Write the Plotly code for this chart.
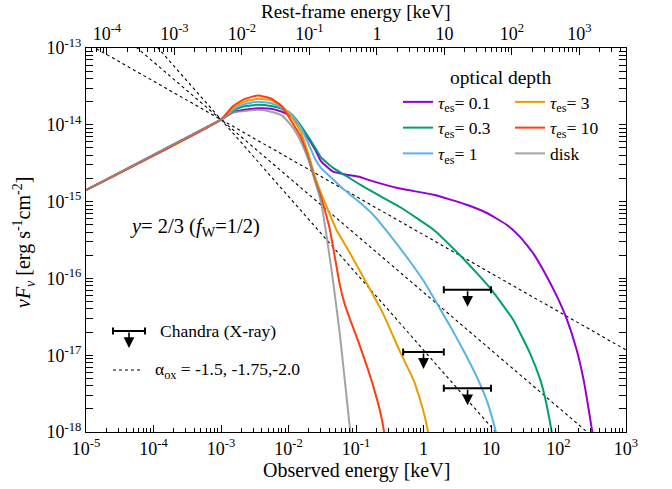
import numpy as np
import plotly.graph_objects as go

FONT = "'Liberation Serif', 'Times New Roman', 'DejaVu Serif', serif"

# ---------------- data (observed energy in keV, nuFnu in erg/s/cm2) ----------------
E_tau01 = [1e-5, 1e-3, 1.5e-3, 2.2e-3, 3.5e-3, 5.5e-3, 8e-3, 0.011, 0.015, 0.02, 0.025, 0.03,
           0.0457, 0.0724, 0.115, 0.1445, 0.447, 1.413, 4.37, 8.71, 17.0, 26.9, 42.7, 63.1,
           93.3, 131.8, 186.2, 239.9, 281.8, 323.6]
F_tau01 = [1.41e-15, 1.17e-14, 1.45e-14, 1.57e-14, 1.64e-14, 1.62e-14, 1.48e-14, 1.29e-14,
           9.5e-15, 6.5e-15, 4.7e-15, 3.4e-15,
           2.45e-15, 2.24e-15, 2.09e-15, 1.95e-15, 1.48e-15, 1.23e-15, 9.1e-16, 7.1e-16,
           5.0e-16, 3.47e-16, 2.09e-16, 1.17e-16, 6.0e-17, 3.0e-17, 1.17e-17, 4.4e-18,
           1.9e-18, 8.9e-19]

E_tau03 = [1e-5, 1e-3, 1.5e-3, 2.2e-3, 3.5e-3, 5.5e-3, 8e-3, 0.011, 0.015, 0.02, 0.025, 0.03,
           0.0457, 0.0724, 0.115, 0.2, 0.447, 1.413, 3.47, 6.17, 10.2, 21.4, 38.0, 53.7,
           63.1, 74.1, 79.4]
F_tau03 = [1.41e-15, 1.17e-14, 1.51e-14, 1.74e-14, 1.82e-14, 1.76e-14, 1.62e-14, 1.38e-14,
           1.0e-14, 6.8e-15, 5.0e-15, 3.8e-15,
           2.75e-15, 2.14e-15, 1.66e-15, 1.26e-15, 8.5e-16, 4.3e-16, 2.0e-16, 1.17e-16,
           7.1e-17, 2.88e-17, 1.05e-17, 4.8e-18, 2.82e-18, 1.41e-18, 1.0e-18]

E_tau1 = [1e-5, 1e-3, 1.5e-3, 2.2e-3, 3.5e-3, 5.5e-3, 8e-3, 0.011, 0.015, 0.02, 0.025, 0.0302,
          0.0457, 0.0617, 0.1, 0.178, 0.316, 0.631, 1.0, 1.585, 2.512, 3.981, 6.31, 8.91,
          11.22, 12.59]
F_tau1 = [1.41e-15, 1.17e-14, 1.58e-14, 1.86e-14, 2.0e-14, 1.91e-14, 1.66e-14, 1.38e-14,
          9.5e-15, 5.5e-15, 3.55e-15, 2.75e-15,
          1.95e-15, 1.51e-15, 1.07e-15, 6.8e-16, 3.7e-16, 1.66e-16, 9.3e-17, 4.7e-17,
          2.34e-17, 1.12e-17, 5.0e-18, 2.4e-18, 1.2e-18, 7.9e-19]

E_tau3 = [1e-5, 1e-3, 1.5e-3, 2.2e-3, 3.5e-3, 5.5e-3, 8e-3, 0.011, 0.015, 0.02, 0.025, 0.03,
          0.0389, 0.0513, 0.0813, 0.1445, 0.251, 0.447, 0.708, 0.891, 1.047, 1.202]
F_tau3 = [1.41e-15, 1.17e-14, 1.66e-14, 2.0e-14, 2.19e-14, 2.09e-14, 1.74e-14, 1.29e-14,
          8.3e-15, 3.98e-15, 2.04e-15, 1.32e-15,
          7.6e-16, 4.3e-16, 2.14e-16, 8.6e-17, 3.5e-17, 1.12e-17, 4.8e-18, 2.63e-18,
          1.58e-18, 8.9e-19]

E_tau10 = [1e-5, 1e-3, 1.5e-3, 2.2e-3, 3.5e-3, 5.5e-3, 8e-3, 0.011, 0.015, 0.02, 0.025, 0.03,
           0.0355, 0.0411, 0.049, 0.0575, 0.0676, 0.0776, 0.107, 0.151, 0.204, 0.24, 0.263]
F_tau10 = [1.41e-15, 1.17e-14, 1.74e-14, 2.16e-14, 2.40e-14, 2.21e-14, 1.74e-14, 1.12e-14,
           7.1e-15, 3.55e-15, 1.82e-15, 1.17e-15,
           7.1e-16, 4.3e-16, 1.82e-16, 8.3e-17, 4.7e-17, 3.3e-17, 1.55e-17, 6.5e-18,
           2.7e-18, 1.51e-18, 9.5e-19]

E_disk = [1e-5, 1e-3, 1.5e-3, 2.2e-3, 3.5e-3, 5.5e-3, 8e-3, 0.011, 0.015, 0.02, 0.025, 0.03,
          0.036, 0.046, 0.058, 0.069, 0.079, 0.085]
F_disk = [1.41e-15, 1.17e-14, 1.45e-14, 1.51e-14, 1.57e-14, 1.48e-14, 1.32e-14, 9.8e-15,
          6.2e-15, 3.4e-15, 1.82e-15, 1.02e-15,
          4.0e-16, 8.9e-17, 1.78e-17, 4.3e-18, 1.41e-18, 7.9e-19]

# alpha_ox reference lines (end points of straight lines in log-log)
E_ox = [1e-5, 1e3]
F_ox_150 = [1.17e-13, 1.17e-17]
F_ox_175 = [3.7e-13, 3.7e-19]
F_ox_200 = [1.17e-12, 1.17e-20]

# Chandra upper limits
E_ch = [4.5, 1.0, 4.5]
E_ch_lo = [2.0, 0.5, 2.0]
E_ch_hi = [10.0, 2.0, 10.0]
F_ch = [7.1e-17, 1.1e-17, 3.7e-18]

redshift = 3.9

x_tickvals = [1e-5, 1e-4, 1e-3, 1e-2, 1e-1, 1, 10, 100, 1000]
x_ticktext = ["10<sup>-5</sup>", "10<sup>-4</sup>", "10<sup>-3</sup>", "10<sup>-2</sup>",
              "10<sup>-1</sup>", "1", "10", "10<sup>2</sup>", "10<sup>3</sup>"]
top_tickvals = [1e-4, 1e-3, 1e-2, 1e-1, 1, 10, 100, 1000]
top_ticktext = ["10<sup>-4</sup>", "10<sup>-3</sup>", "10<sup>-2</sup>", "10<sup>-1</sup>",
                "1", "10", "10<sup>2</sup>", "10<sup>3</sup>"]
y_tickvals = [1e-18, 1e-17, 1e-16, 1e-15, 1e-14, 1e-13]
y_ticktext = ["10<sup>-18</sup>", "10<sup>-17</sup>", "10<sup>-16</sup>",
              "10<sup>-15</sup>", "10<sup>-14</sup>", "10<sup>-13</sup>"]

# ---------------- styling ----------------
COL = {
    "t01": "#9400D3",
    "t03": "#009E73",
    "t1": "#56B4E9",
    "t3": "#E69F00",
    "t10": "#FF3D12",
    "disk": "rgba(140,140,140,0.8)",
}

fig = go.Figure()

for Fox in (F_ox_150, F_ox_175, F_ox_200):
    fig.add_trace(go.Scatter(x=E_ox, y=Fox, mode="lines", showlegend=False,
                             line=dict(color="black", width=1.1, dash="3px,3px"),
                             hoverinfo="skip"))

curves = [
    (E_tau01, F_tau01, "<i>τ</i><sub>es</sub>= 0.1", COL["t01"], "legend"),
    (E_tau03, F_tau03, "<i>τ</i><sub>es</sub>= 0.3", COL["t03"], "legend"),
    (E_tau1, F_tau1, "<i>τ</i><sub>es</sub>= 1", COL["t1"], "legend"),
    (E_tau3, F_tau3, "<i>τ</i><sub>es</sub>= 3", COL["t3"], "legend2"),
    (E_tau10, F_tau10, "<i>τ</i><sub>es</sub>= 10", COL["t10"], "legend2"),
    (E_disk, F_disk, "disk", COL["disk"], "legend2"),
]
for E, F, name, c, lg in curves:
    fig.add_trace(go.Scatter(x=E, y=F, mode="lines", name=name, legend=lg,
                             line=dict(color=c, width=2, shape="spline", smoothing=0.4)))

# invisible copy on the rest-frame axis so that the top axis is drawn
fig.add_trace(go.Scatter(x=[e * (1 + redshift) for e in E_disk], y=F_disk, xaxis="x2",
                         mode="lines", line=dict(width=0), opacity=0, showlegend=False,
                         hoverinfo="skip"))

# Chandra horizontal bars
plus = [h - c for h, c in zip(E_ch_hi, E_ch)]
minus = [c - l for c, l in zip(E_ch, E_ch_lo)]
fig.add_trace(go.Scatter(x=E_ch, y=F_ch, mode="markers", showlegend=False,
                         marker=dict(size=1, color="black"),
                         error_x=dict(type="data", symmetric=False, array=plus, arrayminus=minus,
                                      color="black", thickness=2, width=3.5)))

annotations = []
ARROW_DEC = 0.22  # arrow length in decades
for e, f in zip(E_ch, F_ch):
    annotations.append(dict(x=np.log10(e), y=np.log10(f) - ARROW_DEC, xref="x", yref="y",
                            ax=np.log10(e), ay=np.log10(f), axref="x", ayref="y",
                            text="", showarrow=True, arrowhead=2, arrowsize=1.35,
                            arrowwidth=1.6, arrowcolor="black"))

# plot area geometry in px (for paper conversions of decorations)
L, R, T, B = 86, 46, 48, 57
W, H = 672, 489
PW, PH = W - L - R, H - T - B


def px(xp):
    return (xp - L) / PW


def py(yp):
    return (H - B - yp) / PH


title_font = dict(family=FONT, size=20, color="black")
small = dict(family=FONT, size=17.5, color="black")
annotations += [
    dict(text="<i>νF<sub>ν</sub></i> [erg s<sup>-1</sup>cm<sup>-2</sup>]", x=px(24), y=py(243),
         xref="paper", yref="paper", xanchor="center", yanchor="middle", textangle=-90,
         showarrow=False, font=title_font),
    dict(text="Observed energy [keV]", x=0.5, y=py(470), xref="paper", yref="paper",
         xanchor="center", yanchor="middle", showarrow=False, font=title_font),
    dict(text="Rest-frame energy [keV]", x=0.5, y=py(11.5), xref="paper", yref="paper",
         xanchor="center", yanchor="middle", showarrow=False,
         font=dict(family=FONT, size=19, color="black")),
    dict(text="optical depth", x=px(501), y=py(77), xref="paper", yref="paper",
         xanchor="center", yanchor="middle", showarrow=False,
         font=dict(family=FONT, size=19.5, color="black")),
    dict(text="<i>y</i>= 2/3 (<i>f</i><sub>W</sub>=1/2)", x=-3.385, y=-15.343, xref="x",
         yref="y", xanchor="center", yanchor="middle", showarrow=False,
         font=dict(family=FONT, size=20.5, color="black")),
    dict(text="Chandra (X-ray)", x=px(158), y=py(331), xref="paper", yref="paper",
         xanchor="left", yanchor="middle", showarrow=False, font=small),
    dict(text="α<sub>ox</sub> = -1.5, -1.75,-2.0", x=px(153), y=py(370), xref="paper",
         yref="paper", xanchor="left", yanchor="middle", showarrow=False, font=small),
    dict(x=px(129), y=py(348), xref="paper", yref="paper", ax=0, ay=-17, text="",
         showarrow=True, arrowhead=2, arrowsize=1.35, arrowwidth=1.6, arrowcolor="black"),
]

shapes = [
    dict(type="line", xref="paper", yref="paper", x0=px(113), x1=px(145), y0=py(331),
         y1=py(331), line=dict(color="black", width=2)),
    dict(type="line", xref="paper", yref="paper", x0=px(113), x1=px(113), y0=py(327.5),
         y1=py(334.5), line=dict(color="black", width=2)),
    dict(type="line", xref="paper", yref="paper", x0=px(145), x1=px(145), y0=py(327.5),
         y1=py(334.5), line=dict(color="black", width=2)),
    dict(type="line", xref="paper", yref="paper", x0=px(113), x1=px(143), y0=py(370),
         y1=py(370), line=dict(color="black", width=1.1, dash="3px,3px")),
]


def minor_vals(lo, hi):
    return [m * 10.0 ** d for d in range(lo, hi) for m in range(2, 10)]


lz = np.log10(1 + redshift)
axis_common = dict(type="log", showline=True, linecolor="black", linewidth=1.2,
                   ticks="inside", ticklen=7, tickwidth=1, tickcolor="black",
                   showgrid=False, zeroline=False, automargin=False,
                   tickfont=dict(family=FONT, size=18, color="black"))

legend_common = dict(xanchor="left", yanchor="top", bgcolor="rgba(0,0,0,0)",
                     font=dict(family=FONT, size=17.5, color="black"),
                     itemwidth=30, tracegroupgap=0)

fig.update_layout(
    width=W, height=H, margin=dict(l=L, r=R, t=T, b=B),
    plot_bgcolor="white", paper_bgcolor="white",
    font=dict(family=FONT, size=17, color="black"),
    xaxis=dict(range=[-5, 3], tickmode="array", tickvals=x_tickvals, ticktext=x_ticktext,
               minor=dict(tickmode="array", tickvals=minor_vals(-5, 3), ticks="inside",
                          ticklen=4, tickcolor="black"),
               **axis_common),
    xaxis2=dict(range=[-5 + lz, 3 + lz], overlaying="x", side="top", anchor="y",
                tickmode="array", tickvals=top_tickvals, ticktext=top_ticktext,
                minor=dict(tickmode="array", tickvals=minor_vals(-5, 4), ticks="inside",
                           ticklen=4, tickcolor="black"),
                **axis_common),
    yaxis=dict(range=[-18, -13], tickmode="array", tickvals=y_tickvals, ticktext=y_ticktext,
               mirror="allticks",
               minor=dict(tickmode="array", tickvals=minor_vals(-18, -13), ticks="inside",
                          ticklen=4, tickcolor="black"),
               **axis_common),
    legend=dict(x=px(398), y=py(84), **legend_common),
    legend2=dict(x=px(510), y=py(84), **legend_common),
    annotations=annotations,
    shapes=shapes,
)

fig.write_html("out.html")
